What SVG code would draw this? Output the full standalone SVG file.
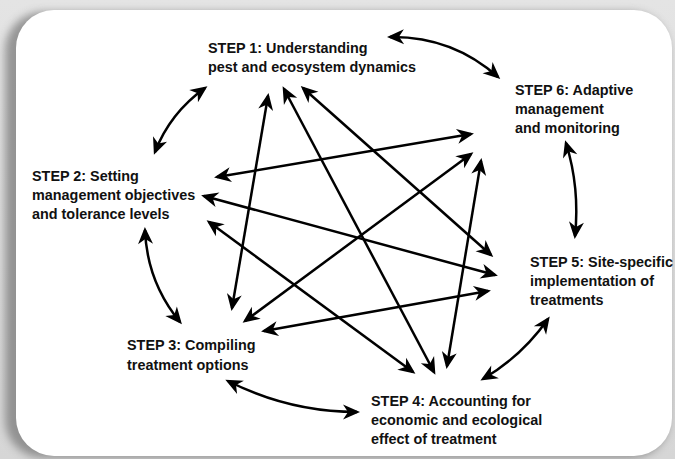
<svg xmlns="http://www.w3.org/2000/svg" width="675" height="459" viewBox="0 0 675 459">
  <defs>
    <linearGradient id="bg" x1="0" y1="0" x2="0" y2="1">
      <stop offset="0" stop-color="#e4e4e4"/>
      <stop offset="1" stop-color="#d6d6d6"/>
    </linearGradient>
    <filter id="blur" x="-10%" y="-10%" width="120%" height="120%">
      <feGaussianBlur stdDeviation="4"/>
    </filter>
    <marker id="ah" viewBox="-15 -8 19 16" refX="0" refY="0" markerWidth="19" markerHeight="16" markerUnits="userSpaceOnUse" orient="auto-start-reverse">
      <path d="M3,0 L-14,-7.5 L-9,0 L-14,7.5 Z" fill="#000"/>
    </marker>
    <style>
      .lbl { font-family: "Liberation Sans", Arial, sans-serif; font-weight: bold; font-size: 14.4px; fill: #111; }
      .c { fill: none; stroke: #000; stroke-width: 2.5; marker-start: url(#ah); marker-end: url(#ah); }
    </style>
  </defs>

  <rect x="0" y="0" width="675" height="459" fill="url(#bg)"/>
  <rect x="5" y="12" width="664" height="446" rx="38" fill="#7a7a7a" opacity="0.75" filter="url(#blur)"/>
  <rect x="16" y="10" width="656" height="446" rx="38" fill="#ffffff"/>

  <g id="connectors">
    <!-- curved adjacent links -->
    <path class="c" d="M390,37 Q452,36 498,77"/>
    <path class="c" d="M566,143 Q580,188 575,236"/>
    <path class="c" d="M548,319 Q522,356 483,379"/>
    <path class="c" d="M357,412 Q289,412 228,381"/>
    <path class="c" d="M180,322 Q147,282 145,230"/>
    <path class="c" d="M155,152 Q170,113 205,88"/>
    <!-- straight cross links -->
    <path class="c" d="M268,96 L232,308"/>
    <path class="c" d="M284,89 L434,372"/>
    <path class="c" d="M303,88 L491,255"/>
    <path class="c" d="M217,177 L471,134"/>
    <path class="c" d="M204,196 L495,275"/>
    <path class="c" d="M209,222 L413,372"/>
    <path class="c" d="M245,321 L471,154"/>
    <path class="c" d="M264,331 L488,291"/>
    <path class="c" d="M447,366 L481,161"/>
  </g>

  <g id="step1">
    <text class="lbl" x="208" y="53">STEP 1: Understanding</text>
    <text class="lbl" x="208" y="72">pest and ecosystem dynamics</text>
  </g>
  <g id="step6">
    <text class="lbl" x="515" y="95">STEP 6: Adaptive</text>
    <text class="lbl" x="515" y="114">management</text>
    <text class="lbl" x="515" y="133">and monitoring</text>
  </g>
  <g id="step2">
    <text class="lbl" x="32" y="181">STEP 2: Setting</text>
    <text class="lbl" x="32" y="200">management objectives</text>
    <text class="lbl" x="32" y="219">and tolerance levels</text>
  </g>
  <g id="step3">
    <text class="lbl" x="127" y="350">STEP 3: Compiling</text>
    <text class="lbl" x="127" y="370">treatment options</text>
  </g>
  <g id="step5">
    <text class="lbl" x="530" y="267">STEP 5: Site-specific</text>
    <text class="lbl" x="530" y="286">implementation of</text>
    <text class="lbl" x="530" y="305">treatments</text>
  </g>
  <g id="step4">
    <text class="lbl" x="371" y="406">STEP 4: Accounting for</text>
    <text class="lbl" x="371" y="425">economic and ecological</text>
    <text class="lbl" x="371" y="444">effect of treatment</text>
  </g>
</svg>
